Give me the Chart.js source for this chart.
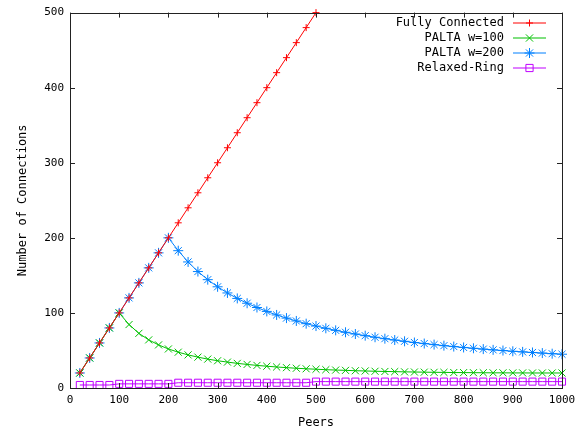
<!DOCTYPE html>
<html>
<head>
<meta charset="utf-8">
<script src="https://cdn.jsdelivr.net/npm/chart.js@4/dist/chart.umd.min.js"></script>
<style>
html,body{margin:0;padding:0;background:#fff;}
#wrap{width:584px;height:432px;}
</style>
</head>
<body>
<div id="wrap"><canvas id="c" width="584" height="432"></canvas></div>
<script>
// ---- data ----
const peers = [20,40,60,80,100,120,140,160,180,200,220,240,260,280,300,320,340,360,380,400,420,440,460,480,500,520,540,560,580,600,620,640,660,680,700,720,740,760,780,800,820,840,860,880,900,920,940,960,980,1000];
const fullyConnected = [20,40,60,80,100,120,140,160,180,200,220,240,260,280,300,320,340,360,380,400,420,440,460,480,500];
const paltaW100 = [20,40,60,80,100,84.5,72.8,64.1,57.4,52,47.7,44.1,41.1,38.5,36.3,34.5,32.8,31.4,30.1,29,28,27.1,26.3,25.6,25,24.4,23.9,23.5,23,22.7,22.3,22,21.8,21.5,21.3,21.1,20.9,20.8,20.6,20.5,20.4,20.3,20.2,20.2,20.1,20.1,20,20,20,20];
const paltaW200 = [20,40,60,80,100,120,140,160,180,200,182.9,167.9,155.1,144.3,134.8,126.6,119.3,112.9,107.2,102,97.3,93.1,89.3,85.7,82.5,79.5,76.8,74.2,71.9,69.7,67.6,65.7,63.9,62.2,60.6,59.2,57.8,56.4,55.2,54,52.9,51.8,50.8,49.9,48.9,48.1,47.3,46.5,45.7,45];
const relaxedRing = [4,4,4,4,5.5,5.5,5.5,5.5,5.5,5.5,7,7,7,7,7,7,7,7,7,7,7,7,7,7,8.5,8.5,8.5,8.5,8.5,8.5,8.5,8.5,8.5,8.5,8.5,8.5,8.5,8.5,8.5,8.5,8.5,8.5,8.5,8.5,8.5,8.5,8.5,8.5,8.5,8.5];
const seriesNames = ['Fully Connected','PALTA w=100','PALTA w=200','Relaxed-Ring'];
const seriesColors = ['#ff0000','#00c000','#0080ff','#c000ff'];
const seriesMarkers = ['cross','crossRot','star','rect'];
const xTicks = [0,100,200,300,400,500,600,700,800,900,1000];
const yTicks = [0,100,200,300,400,500];
const xTitle = 'Peers';
const yTitle = 'Number of Connections';

const FONT = "'DejaVu Sans Mono', 'Liberation Mono', monospace";
const toPts = (ys) => ys.map((y, i) => ({x: peers[i], y: y}));

function drawMarker(ctx, style, x, y, r, color) {
  ctx.save();
  ctx.strokeStyle = color;
  ctx.lineWidth = 1;
  ctx.beginPath();
  if (style === 'cross' || style === 'star') {
    ctx.moveTo(x - r, y); ctx.lineTo(x + r, y);
    ctx.moveTo(x, y - r); ctx.lineTo(x, y + r);
  }
  if (style === 'crossRot' || style === 'star') {
    const d = r * 0.72;
    ctx.moveTo(x - d, y - d); ctx.lineTo(x + d, y + d);
    ctx.moveTo(x - d, y + d); ctx.lineTo(x + d, y - d);
  }
  if (style === 'rect') {
    const s = r * 0.72;
    ctx.rect(x - s, y - s, 2 * s, 2 * s);
  }
  ctx.stroke();
  ctx.restore();
}

const framePlugin = {
  id: 'frame',
  afterDatasetsDraw(chart) {
    const {ctx, chartArea: a, scales} = chart;
    ctx.save();
    ctx.strokeStyle = '#222';
    ctx.lineWidth = 1;
    ctx.strokeRect(Math.round(a.left) + 0.5, Math.round(a.top) + 0.5, Math.round(a.right - a.left), Math.round(a.bottom - a.top));
    const T = 5;
    ctx.beginPath();
    xTicks.forEach(v => {
      const px = Math.round(scales.x.getPixelForValue(v)) + 0.5;
      ctx.moveTo(px, a.bottom); ctx.lineTo(px, a.bottom - T);
      ctx.moveTo(px, a.top); ctx.lineTo(px, a.top + T);
    });
    yTicks.forEach(v => {
      const py = Math.round(scales.y.getPixelForValue(v)) + 0.5;
      ctx.moveTo(a.left, py); ctx.lineTo(a.left + T, py);
      ctx.moveTo(a.right, py); ctx.lineTo(a.right - T, py);
    });
    ctx.stroke();
    // legend
    ctx.font = '12px ' + FONT;
    ctx.textAlign = 'right';
    ctx.textBaseline = 'middle';
    seriesNames.forEach((name, i) => {
      const y = 23 + 15 * i;
      ctx.fillStyle = '#000';
      ctx.fillText(name, 504, y);
      ctx.strokeStyle = seriesColors[i];
      ctx.lineWidth = 1.2;
      ctx.beginPath();
      ctx.moveTo(513, y); ctx.lineTo(546, y);
      ctx.stroke();
      drawMarker(ctx, seriesMarkers[i], 529.5, y, seriesMarkers[i] === 'cross' ? 3.5 : 5, seriesColors[i]);
    });
    ctx.restore();
  }
};

const mk = (i, ys, r) => ({
  label: seriesNames[i], data: toPts(ys), borderColor: seriesColors[i], backgroundColor: 'rgba(0,0,0,0)',
  pointBorderColor: seriesColors[i], pointBackgroundColor: 'rgba(0,0,0,0)',
  borderWidth: 1, pointBorderWidth: 1, pointStyle: seriesMarkers[i], pointRadius: r, pointHoverRadius: r,
  tension: 0, clip: 6
});

new Chart(document.getElementById('c'), {
  type: 'line',
  data: {
    datasets: [
      mk(0, fullyConnected, 3.5),
      mk(1, paltaW100, 5),
      mk(2, paltaW200, 5),
      mk(3, relaxedRing, 5)
    ]
  },
  options: {
    responsive: false,
    animation: false,
    events: [],
    layout: {padding: {left: 0, right: 22, top: 12, bottom: 0}},
    plugins: {legend: {display: false}, tooltip: {enabled: false}},
    scales: {
      x: {
        type: 'linear', min: 0, max: 1000,
        afterBuildTicks: (s) => { s.ticks = xTicks.map(v => ({value: v})); },
        afterFit: (s) => { s.height = 44; },
        grid: {display: false, drawTicks: false},
        border: {display: false},
        ticks: {color: '#000', font: {family: FONT, size: 11}, padding: 6, maxRotation: 0, autoSkip: false, callback: (v) => String(v)},
        title: {display: true, text: xTitle, color: '#000', font: {family: FONT, size: 12}, padding: {top: 0, bottom: 2}}
      },
      y: {
        type: 'linear', min: 0, max: 500,
        afterBuildTicks: (s) => { s.ticks = yTicks.map(v => ({value: v})); },
        afterFit: (s) => { s.width = 70; },
        grid: {display: false, drawTicks: false},
        border: {display: false},
        ticks: {color: '#000', font: {family: FONT, size: 11}, padding: 6, autoSkip: false, callback: (v) => String(v)},
        title: {display: true, text: yTitle, color: '#000', font: {family: FONT, size: 12}, padding: {top: 16, bottom: 0}}
      }
    }
  },
  plugins: [framePlugin]
});
</script>
</body>
</html>
